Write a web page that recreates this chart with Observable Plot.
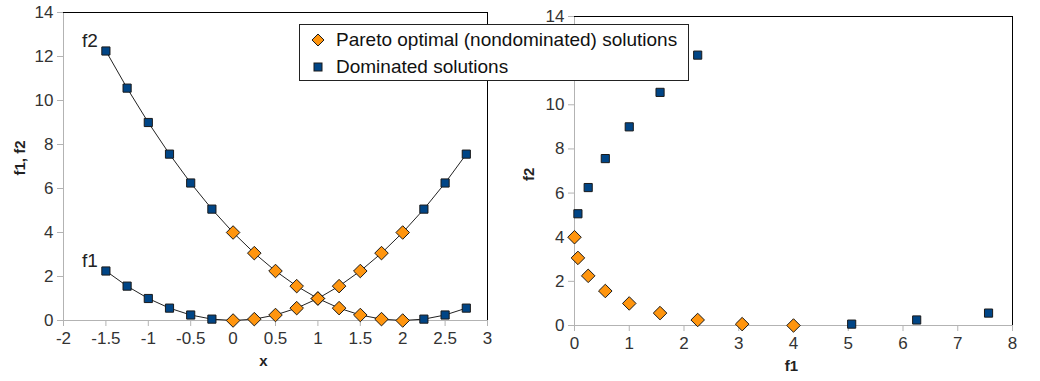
<!DOCTYPE html>
<html>
<head>
<meta charset="utf-8">
<script src="https://cdn.jsdelivr.net/npm/d3@7"></script>
<script src="https://cdn.jsdelivr.net/npm/@observablehq/plot@0.6"></script>
<style>
  html, body { margin: 0; padding: 0; background: #fff; }
  #wrap { position: relative; width: 1040px; height: 381px; overflow: hidden; font-family: "Liberation Sans", Arial, sans-serif; }
  #left, #right { position: absolute; top: 0; }
  #left { left: 0; }
  #right { left: 520px; }
  #legend { position: absolute; left: 299px; top: 24px; width: 390px; height: 57px; background: #fff; border: 1px solid #222; box-sizing: border-box; }
  .item { position: absolute; left: 8px; height: 22px; display: flex; align-items: center; font-size: 19px; color: #111; white-space: nowrap; }
  .item svg { width: 20px; height: 20px; margin-right: 8px; }
</style>
</head>
<body>
<div id="wrap">
  <div id="left"></div>
  <div id="right"></div>
  <div id="legend"></div>
</div>
<script>
// ---- data ----
const xValues = [-1.5, -1.25, -1, -0.75, -0.5, -0.25, 0, 0.25, 0.5, 0.75, 1, 1.25, 1.5, 1.75, 2, 2.25, 2.5, 2.75];
const f1Values = [2.25, 1.5625, 1, 0.5625, 0.25, 0.0625, 0, 0.0625, 0.25, 0.5625, 1, 1.5625, 2.25, 3.0625, 4, 5.0625, 6.25, 7.5625];
const f2Values = [12.25, 10.5625, 9, 7.5625, 6.25, 5.0625, 4, 3.0625, 2.25, 1.5625, 1, 0.5625, 0.25, 0.0625, 0, 0.0625, 0.25, 0.5625];
const paretoFlags = [false, false, false, false, false, false, true, true, true, true, true, true, true, true, true, false, false, false];
const leftXTicks = [-2, -1.5, -1, -0.5, 0, 0.5, 1, 1.5, 2, 2.5, 3];
const leftYTicks = [0, 2, 4, 6, 8, 10, 12, 14];
const rightXTicks = [0, 1, 2, 3, 4, 5, 6, 7, 8];
const rightYTicks = [0, 2, 4, 6, 8, 10, 12, 14];
const legendLabels = ["Pareto optimal (nondominated) solutions", "Dominated solutions"];
const seriesNames = ["f1", "f2"];

const BLUE = "#004586", ORANGE = "#ff950e", OUT = "#1a1a1a";
const AXIS = "#b3b3b3", TEXT = "#333";
const fmt = d => String(d);

const rows = xValues.map((x, i) => ({x, f1: f1Values[i], f2: f2Values[i], pareto: paretoFlags[i]}));
const paretoRows = rows.filter(d => d.pareto);
const domRows = rows.filter(d => !d.pareto);

const commonStyle = {fontFamily: "'Liberation Sans', Arial, sans-serif", fontSize: "17px", color: TEXT, background: "transparent", overflow: "visible"};

function axes(xTicks, yTicks) {
  return [
    Plot.ruleX([xTicks[0]], {stroke: AXIS}),
    Plot.ruleY([yTicks[0]], {stroke: AXIS}),
    Plot.ruleX([xTicks[xTicks.length - 1]], {stroke: "#000"}),
    Plot.ruleY([yTicks[yTicks.length - 1]], {stroke: "#000"}),
    Plot.axisX({ticks: xTicks, tickFormat: fmt, tickSize: 6, tickPadding: 5, stroke: AXIS, fill: TEXT, fontSize: 17, label: null}),
    Plot.axisY({ticks: yTicks, tickFormat: fmt, tickSize: 6, tickPadding: 4, stroke: AXIS, fill: TEXT, fontSize: 17, label: null})
  ];
}

const SQ = 4.6, DI = 6.1;

const left = Plot.plot({
  width: 520, height: 381,
  marginLeft: 63, marginRight: 33, marginTop: 12, marginBottom: 61,
  x: {domain: [leftXTicks[0], leftXTicks[leftXTicks.length - 1]]},
  y: {domain: [leftYTicks[0], leftYTicks[leftYTicks.length - 1]]},
  style: commonStyle,
  marks: [
    ...axes(leftXTicks, leftYTicks),
    Plot.line(rows, {x: "x", y: "f1", stroke: "#222", strokeWidth: 1}),
    Plot.line(rows, {x: "x", y: "f2", stroke: "#222", strokeWidth: 1}),
    Plot.dot(domRows, {x: "x", y: "f1", symbol: "square", r: SQ, fill: BLUE, stroke: OUT, strokeWidth: 1}),
    Plot.dot(domRows, {x: "x", y: "f2", symbol: "square", r: SQ, fill: BLUE, stroke: OUT, strokeWidth: 1}),
    Plot.dot(paretoRows, {x: "x", y: "f1", symbol: "diamond2", r: DI, fill: ORANGE, stroke: OUT, strokeWidth: 1}),
    Plot.dot(paretoRows, {x: "x", y: "f2", symbol: "diamond2", r: DI, fill: ORANGE, stroke: OUT, strokeWidth: 1}),
    Plot.text([rows[0]], {x: "x", y: "f1", text: () => seriesNames[0], dx: -16, dy: -10, fontSize: 19, fill: "#222"}),
    Plot.text([rows[0]], {x: "x", y: "f2", text: () => seriesNames[1], dx: -16, dy: -10, fontSize: 19, fill: "#222"}),
    Plot.text(["x"], {frameAnchor: "bottom", dx: -12, dy: 45, fontWeight: "bold", fontSize: 15, fill: "#222"}),
    Plot.text(["f1, f2"], {frameAnchor: "left", dx: -43, dy: 9, rotate: -90, fontWeight: "bold", fontSize: 15, fill: "#222"})
  ]
});
document.getElementById("left").appendChild(left);

const right = Plot.plot({
  width: 520, height: 381,
  marginLeft: 54, marginRight: 28, marginTop: 16, marginBottom: 56,
  x: {domain: [rightXTicks[0], rightXTicks[rightXTicks.length - 1]]},
  y: {domain: [rightYTicks[0], rightYTicks[rightYTicks.length - 1]]},
  style: commonStyle,
  marks: [
    ...axes(rightXTicks, rightYTicks),
    Plot.dot(domRows, {x: "f1", y: "f2", symbol: "square", r: SQ, fill: BLUE, stroke: OUT, strokeWidth: 1}),
    Plot.dot(paretoRows, {x: "f1", y: "f2", symbol: "diamond2", r: DI, fill: ORANGE, stroke: OUT, strokeWidth: 1}),
    Plot.text(["f1"], {frameAnchor: "bottom", dx: -2, dy: 45, fontWeight: "bold", fontSize: 15, fill: "#222"}),
    Plot.text(["f2"], {frameAnchor: "left", dx: -45, dy: 10, rotate: -90, fontWeight: "bold", fontSize: 15, fill: "#222"})
  ]
});
document.getElementById("right").appendChild(right);

// legend
const legend = document.getElementById("legend");
const symbols = [
  `<svg viewBox="-10 -10 20 20"><path d="M0,-6L6,0L0,6L-6,0Z" fill="${ORANGE}" stroke="${OUT}" stroke-width="1"/></svg>`,
  `<svg viewBox="-10 -10 20 20"><rect x="-4" y="-4" width="8" height="8" fill="${BLUE}" stroke="${OUT}" stroke-width="1"/></svg>`
];
legendLabels.forEach((lab, i) => {
  const div = document.createElement("div");
  div.className = "item";
  div.style.top = (i === 0 ? 4 : 31) + "px";
  div.innerHTML = symbols[i] + `<span>${lab}</span>`;
  legend.appendChild(div);
});
</script>
</body>
</html>
